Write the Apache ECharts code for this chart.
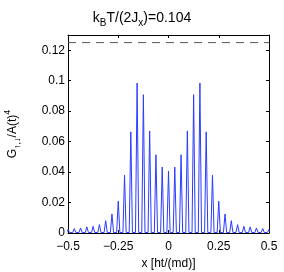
<!DOCTYPE html>
<html>
<head>
<meta charset="utf-8">
<script src="https://cdn.jsdelivr.net/npm/echarts@6/dist/echarts.min.js"></script>
<style>
html,body{margin:0;padding:0;background:#fff;}
#c{width:284px;height:272px;}
</style>
</head>
<body>
<div id="c"></div>
<script>
// Peak positions (x [ht/(md)]) and peak heights of G/A(t)^4
var peakX = [-0.5, -0.46875, -0.4375, -0.40625, -0.375, -0.34375, -0.3125, -0.28125,
  -0.25, -0.21875, -0.1875, -0.15625, -0.125, -0.09375, -0.0625, -0.03125, 0,
  0.03125, 0.0625, 0.09375, 0.125, 0.15625, 0.1875, 0.21875, 0.25,
  0.28125, 0.3125, 0.34375, 0.375, 0.40625, 0.4375, 0.46875, 0.5];
var peakY = [0.0022, 0.0029, 0.0033, 0.0040, 0.0044, 0.0055, 0.0081, 0.0125,
  0.0209, 0.0380, 0.0664, 0.0985, 0.0908, 0.0670, 0.0514, 0.0433, 0.0407,
  0.0433, 0.0514, 0.0670, 0.0908, 0.0985, 0.0664, 0.0380, 0.0209,
  0.0125, 0.0081, 0.0055, 0.0044, 0.0040, 0.0033, 0.0029, 0.0022];
var valleyY = 0.0003;
var refLevel = 0.125;
var xTicks = [-0.5, 0.5, 0.25];   // min, max, interval
var yTicks = [0, 0.13, 0.02];
var titleText = '{a|k}{s|B}{a|T/(2J}{s|x}{a|)=0.104}';
var xName = 'x [ht/(md)]';
var yName = '{a|G}{s|\u2191,\u2193}{a|/A(t)}{p|4}';

var halfW = 0.008;
var curve = [];
for (var i = 0; i < peakX.length; i++) {
  curve.push([peakX[i] - halfW, valleyY]);
  curve.push([peakX[i], peakY[i]]);
  curve.push([peakX[i] + halfW, valleyY]);
}

var FONT = 'Liberation Sans';
function fmtX(v) {
  if (v < 0) return '\u2212' + (-v);
  return String(v);
}
var chart = echarts.init(document.getElementById('c'), null, {renderer: 'canvas'});
var axisCommon = {
  type: 'value',
  splitLine: {show: false},
  axisLine: {show: true, onZero: false, lineStyle: {color: '#000', width: 1}},
  axisTick: {show: true, inside: true, length: 3, lineStyle: {color: '#000'}}
};
chart.setOption({
  animation: false,
  backgroundColor: '#fff',
  title: {
    text: titleText,
    left: 'center',
    top: 8,
    padding: [0, 0, 0, 51],
    textStyle: {
      fontWeight: 'normal',
      rich: {
        a: {fontFamily: FONT, fontSize: 14, fontWeight: 'normal', color: '#000', lineHeight: 20},
        s: {fontFamily: FONT, fontSize: 10, fontWeight: 'normal', color: '#000', lineHeight: 20, padding: [11, 0, 0, 0]}
      }
    }
  },
  grid: {left: 68, right: 15, top: 35, bottom: 39, show: false, outerBoundsMode: 'none', containLabel: false},
  xAxis: [
    Object.assign({}, axisCommon, {
      min: xTicks[0], max: xTicks[1], interval: xTicks[2], position: 'bottom',
      name: xName, nameLocation: 'middle', nameGap: 24,
      nameTextStyle: {fontFamily: FONT, fontSize: 12, color: '#000'},
      axisLabel: {fontFamily: FONT, fontSize: 12, color: '#000', margin: 8, formatter: fmtX}
    }),
    Object.assign({}, axisCommon, {
      min: xTicks[0], max: xTicks[1], interval: xTicks[2], position: 'top',
      axisLabel: {show: false}
    })
  ],
  yAxis: [
    Object.assign({}, axisCommon, {
      min: yTicks[0], max: yTicks[1], interval: yTicks[2], position: 'left',
      name: yName, nameLocation: 'middle', nameGap: 45, nameRotate: 90,
      nameTextStyle: {
        rich: {
          a: {fontFamily: FONT, fontSize: 12, color: '#000', lineHeight: 20},
          s: {fontFamily: FONT, fontSize: 9, color: '#000', lineHeight: 20, padding: [10, 0, 0, 0]},
          p: {fontFamily: FONT, fontSize: 9, color: '#000', lineHeight: 20, padding: [0, 0, 10, 0]}
        }
      },
      axisLabel: {fontFamily: FONT, fontSize: 12, color: '#000', margin: 3, showMaxLabel: false}
    }),
    Object.assign({}, axisCommon, {
      min: yTicks[0], max: yTicks[1], interval: yTicks[2], position: 'right',
      axisLabel: {show: false}
    })
  ],
  series: [
    {
      type: 'line',
      xAxisIndex: 0, yAxisIndex: 0,
      data: curve,
      symbol: 'none',
      clip: true,
      lineStyle: {color: '#2a3cff', width: 1}
    },
    {
      type: 'line',
      xAxisIndex: 0, yAxisIndex: 0,
      data: [[xTicks[0], refLevel], [xTicks[1], refLevel]],
      symbol: 'none',
      lineStyle: {color: '#555', width: 1, type: [8, 6]}
    }
  ]
});
</script>
</body>
</html>
